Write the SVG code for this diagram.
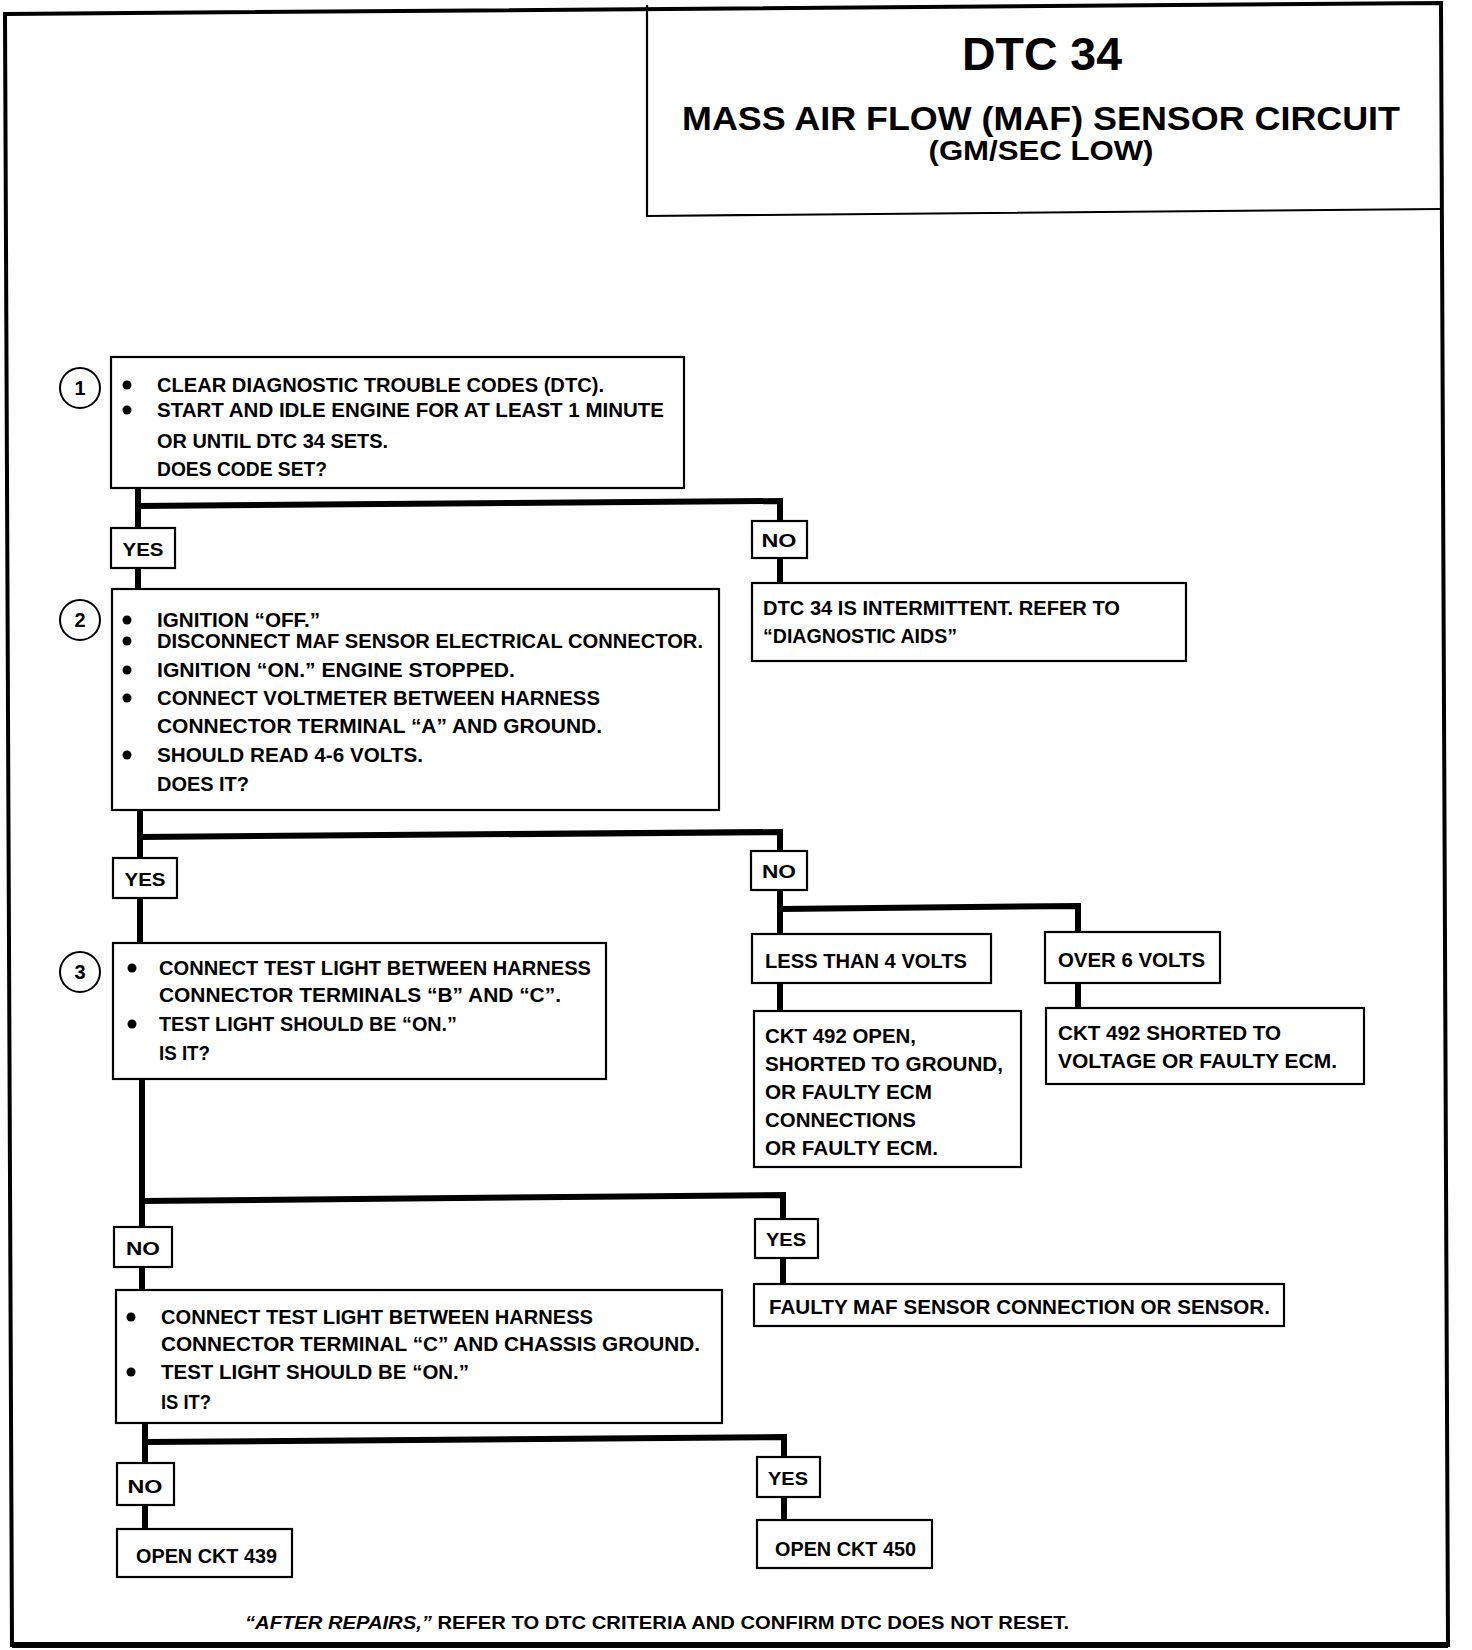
<svg xmlns="http://www.w3.org/2000/svg" width="1472" height="1650" viewBox="0 0 1472 1650">
<style>
text{font-family:"Liberation Sans",Arial,sans-serif;font-weight:bold;fill:#000}
.t{font-size:21px}
.lb{font-size:19px;text-anchor:middle}
.num{font-size:20px;text-anchor:middle}
.box{fill:#fff;stroke:#000;stroke-width:2.2}
.cn{fill:none;stroke:#000;stroke-width:6;stroke-linejoin:miter}
.bul{fill:#000}
.circ{fill:#fff;stroke:#000;stroke-width:2}
</style>
<rect x="0" y="0" width="1472" height="1650" fill="#fff"/>
<g id="frame">
<path d="M5,14 L1441,3 L1448,1645 L12,1645 Z" fill="none" stroke="#000" stroke-width="4"/>
<path d="M12,1645 L1448,1645" stroke="#000" stroke-width="6"/>
</g>
<g id="title">
<path d="M647,5 L647,216 L1441,209" fill="none" stroke="#000" stroke-width="2.2"/>
<text x="1042" y="70" font-size="46" text-anchor="middle" textLength="160" lengthAdjust="spacingAndGlyphs">DTC 34</text>
<text x="1041" y="130" font-size="33" text-anchor="middle" textLength="718" lengthAdjust="spacingAndGlyphs">MASS AIR FLOW (MAF) SENSOR CIRCUIT</text>
<text x="1041" y="160" font-size="27" text-anchor="middle" textLength="225" lengthAdjust="spacingAndGlyphs">(GM/SEC LOW)</text>
</g>
<g id="connectors">
<path class="cn" d="M138,488 V589"/>
<path class="cn" d="M138,506 L780,501 L780,583"/>
<path class="cn" d="M140,810 V943"/>
<path class="cn" d="M140,837 L780,832 L780,934"/>
<path class="cn" d="M780,909 L1078,906 L1078,932"/>
<path class="cn" d="M780,983 V1011"/>
<path class="cn" d="M1078,983 V1008"/>
<path class="cn" d="M142,1079 V1290"/>
<path class="cn" d="M142,1201 L783,1195 L783,1284"/>
<path class="cn" d="M145,1423 V1529"/>
<path class="cn" d="M145,1442 L784,1437 L784,1520"/>
</g>
<g id="step1">
<circle class="circ" cx="80" cy="388" r="20"/>
<text class="num" x="80" y="395">1</text>
<rect class="box" x="111" y="357" width="573" height="131"/>
<circle class="bul" cx="127" cy="385" r="4.5"/>
<circle class="bul" cx="127" cy="410" r="4.5"/>
<text class="t" x="157" y="392" textLength="447" lengthAdjust="spacingAndGlyphs">CLEAR DIAGNOSTIC TROUBLE CODES (DTC).</text>
<text class="t" x="157" y="417" textLength="507" lengthAdjust="spacingAndGlyphs">START AND IDLE ENGINE FOR AT LEAST 1 MINUTE</text>
<text class="t" x="157" y="448" textLength="231" lengthAdjust="spacingAndGlyphs">OR UNTIL DTC 34 SETS.</text>
<text class="t" x="157" y="476" textLength="170" lengthAdjust="spacingAndGlyphs">DOES CODE SET?</text>
</g>
<g id="yes1">
<rect class="box" x="111" y="528" width="64" height="40"/>
<text class="lb" x="143" y="556" textLength="41" lengthAdjust="spacingAndGlyphs">YES</text>
</g>
<g id="no1">
<rect class="box" x="752" y="521" width="55" height="37"/>
<text class="lb" x="779" y="547" textLength="35" lengthAdjust="spacingAndGlyphs">NO</text>
</g>
<g id="intermittent">
<rect class="box" x="752" y="583" width="434" height="78"/>
<text class="t" x="763" y="615" textLength="357" lengthAdjust="spacingAndGlyphs">DTC 34 IS INTERMITTENT. REFER TO</text>
<text class="t" x="763" y="643" textLength="194" lengthAdjust="spacingAndGlyphs">“DIAGNOSTIC AIDS”</text>
</g>
<g id="step2">
<circle class="circ" cx="80" cy="620" r="20"/>
<text class="num" x="80" y="627">2</text>
<rect class="box" x="112" y="589" width="607" height="221"/>
<circle class="bul" cx="127" cy="620" r="4.5"/>
<circle class="bul" cx="127" cy="641" r="4.5"/>
<circle class="bul" cx="127" cy="670" r="4.5"/>
<circle class="bul" cx="127" cy="698" r="4.5"/>
<circle class="bul" cx="127" cy="755" r="4.5"/>
<text class="t" x="157" y="627" textLength="163" lengthAdjust="spacingAndGlyphs">IGNITION “OFF.”</text>
<text class="t" x="157" y="648" textLength="546" lengthAdjust="spacingAndGlyphs">DISCONNECT MAF SENSOR ELECTRICAL CONNECTOR.</text>
<text class="t" x="157" y="677" textLength="358" lengthAdjust="spacingAndGlyphs">IGNITION “ON.” ENGINE STOPPED.</text>
<text class="t" x="157" y="705" textLength="443" lengthAdjust="spacingAndGlyphs">CONNECT VOLTMETER BETWEEN HARNESS</text>
<text class="t" x="157" y="733" textLength="445" lengthAdjust="spacingAndGlyphs">CONNECTOR TERMINAL “A” AND GROUND.</text>
<text class="t" x="157" y="762" textLength="266" lengthAdjust="spacingAndGlyphs">SHOULD READ 4-6 VOLTS.</text>
<text class="t" x="157" y="791" textLength="92" lengthAdjust="spacingAndGlyphs">DOES IT?</text>
</g>
<g id="yes2">
<rect class="box" x="113" y="858" width="64" height="40"/>
<text class="lb" x="145" y="886" textLength="41" lengthAdjust="spacingAndGlyphs">YES</text>
</g>
<g id="no2">
<rect class="box" x="751" y="851" width="56" height="39"/>
<text class="lb" x="779" y="878" textLength="34" lengthAdjust="spacingAndGlyphs">NO</text>
</g>
<g id="less4">
<rect class="box" x="752" y="934" width="239" height="49"/>
<text class="t" x="765" y="968" textLength="202" lengthAdjust="spacingAndGlyphs">LESS THAN 4 VOLTS</text>
</g>
<g id="over6">
<rect class="box" x="1045" y="932" width="175" height="51"/>
<text class="t" x="1058" y="967" textLength="147" lengthAdjust="spacingAndGlyphs">OVER 6 VOLTS</text>
</g>
<g id="ckt492open">
<rect class="box" x="754" y="1011" width="267" height="156"/>
<text class="t" x="765" y="1043" textLength="151" lengthAdjust="spacingAndGlyphs">CKT 492 OPEN,</text>
<text class="t" x="765" y="1071" textLength="238" lengthAdjust="spacingAndGlyphs">SHORTED TO GROUND,</text>
<text class="t" x="765" y="1099" textLength="167" lengthAdjust="spacingAndGlyphs">OR FAULTY ECM</text>
<text class="t" x="765" y="1127" textLength="151" lengthAdjust="spacingAndGlyphs">CONNECTIONS</text>
<text class="t" x="765" y="1155" textLength="173" lengthAdjust="spacingAndGlyphs">OR FAULTY ECM.</text>
</g>
<g id="ckt492short">
<rect class="box" x="1046" y="1008" width="318" height="76"/>
<text class="t" x="1058" y="1040" textLength="223" lengthAdjust="spacingAndGlyphs">CKT 492 SHORTED TO</text>
<text class="t" x="1058" y="1068" textLength="279" lengthAdjust="spacingAndGlyphs">VOLTAGE OR FAULTY ECM.</text>
</g>
<g id="step3">
<circle class="circ" cx="80" cy="972" r="20"/>
<text class="num" x="80" y="979">3</text>
<rect class="box" x="113" y="943" width="493" height="136"/>
<circle class="bul" cx="132" cy="968" r="4.5"/>
<circle class="bul" cx="132" cy="1024" r="4.5"/>
<text class="t" x="159" y="975" textLength="432" lengthAdjust="spacingAndGlyphs">CONNECT TEST LIGHT BETWEEN HARNESS</text>
<text class="t" x="159" y="1002" textLength="402" lengthAdjust="spacingAndGlyphs">CONNECTOR TERMINALS “B” AND “C”.</text>
<text class="t" x="159" y="1031" textLength="298" lengthAdjust="spacingAndGlyphs">TEST LIGHT SHOULD BE “ON.”</text>
<text class="t" x="159" y="1060" textLength="51" lengthAdjust="spacingAndGlyphs">IS IT?</text>
</g>
<g id="no3">
<rect class="box" x="114" y="1227" width="58" height="40"/>
<text class="lb" x="143" y="1255" textLength="34" lengthAdjust="spacingAndGlyphs">NO</text>
</g>
<g id="yes3">
<rect class="box" x="755" y="1219" width="63" height="39"/>
<text class="lb" x="786" y="1246" textLength="40" lengthAdjust="spacingAndGlyphs">YES</text>
</g>
<g id="faultymaf">
<rect class="box" x="754" y="1284" width="530" height="42"/>
<text class="t" x="769" y="1314" textLength="501" lengthAdjust="spacingAndGlyphs">FAULTY MAF SENSOR CONNECTION OR SENSOR.</text>
</g>
<g id="step4">
<rect class="box" x="116" y="1290" width="606" height="133"/>
<circle class="bul" cx="131" cy="1317" r="4.5"/>
<circle class="bul" cx="131" cy="1372" r="4.5"/>
<text class="t" x="161" y="1324" textLength="432" lengthAdjust="spacingAndGlyphs">CONNECT TEST LIGHT BETWEEN HARNESS</text>
<text class="t" x="161" y="1351" textLength="539" lengthAdjust="spacingAndGlyphs">CONNECTOR TERMINAL “C” AND CHASSIS GROUND.</text>
<text class="t" x="161" y="1379" textLength="308" lengthAdjust="spacingAndGlyphs">TEST LIGHT SHOULD BE “ON.”</text>
<text class="t" x="161" y="1409" textLength="50" lengthAdjust="spacingAndGlyphs">IS IT?</text>
</g>
<g id="no4">
<rect class="box" x="117" y="1463" width="57" height="42"/>
<text class="lb" x="145" y="1493" textLength="35" lengthAdjust="spacingAndGlyphs">NO</text>
</g>
<g id="yes4">
<rect class="box" x="757" y="1457" width="63" height="40"/>
<text class="lb" x="788" y="1485" textLength="40" lengthAdjust="spacingAndGlyphs">YES</text>
</g>
<g id="open439">
<rect class="box" x="117" y="1529" width="175" height="48"/>
<text class="t" x="136" y="1563" textLength="141" lengthAdjust="spacingAndGlyphs">OPEN CKT 439</text>
</g>
<g id="open450">
<rect class="box" x="757" y="1520" width="175" height="48"/>
<text class="t" x="775" y="1556" textLength="141" lengthAdjust="spacingAndGlyphs">OPEN CKT 450</text>
</g>
<g id="footer">
<text x="245" y="1629" font-size="19" textLength="824" lengthAdjust="spacingAndGlyphs"><tspan font-style="italic">“AFTER REPAIRS,”</tspan> REFER TO DTC CRITERIA AND CONFIRM DTC DOES NOT RESET.</text>
</g>
</svg>
